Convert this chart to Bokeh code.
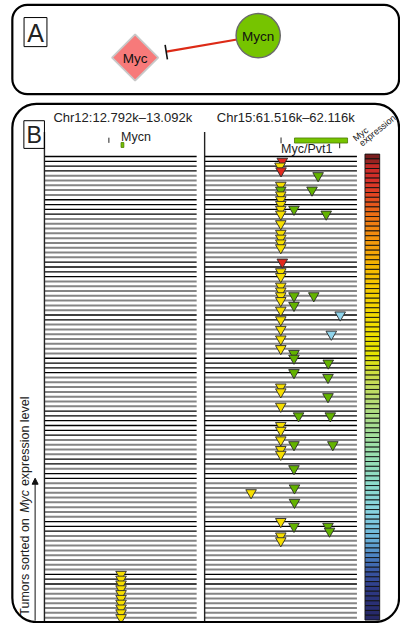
import numpy as np
from bokeh.plotting import figure
from bokeh.models import (Range1d, ColumnDataSource, BoxAnnotation, Arrow,
                          NormalHead, LinearColorMapper)
from bokeh.core.properties import value
from bokeh.embed import file_html
from bokeh.resources import INLINE

# ---------------- data ----------------
chr12_region = (12792, 13092)   # kb
chr15_region = (61516, 62116)   # kb
n_tumors = 97                   # tumors, sorted on Myc expression (0 = highest)

track_shade = ("k" * 4 + "g" * 5 + "k" * 4 + "g" * 9 + "k" * 4 + "g" * 7 +
               "k" * 2 + "g" * 7 + "k" * 4 + "g" * 7 + "k" * 6 + "g" * 4 +
               "k" * 2 + "g" * 1 + "k" * 2 + "g" * 8 + "k" * 3 + "g" * 8 +
               "k" * 3 + "g" * 7)

# gene annotations
mycn_tick = [12919]
mycn_exon = (12943, 12948.5)
myc_ticks = [61817, 62048]
myc_gene = (61870, 62079)

# insertions at the Mycn locus (Chr12)
mycn_rows = [87, 88, 89, 90, 91, 92, 93, 94, 95, 96]
mycn_pos = [12943] * 10
mycn_type = ["yellow"] * 10

# insertions at the Myc/Pvt1 locus (Chr15)
myc_rows = [1, 2, 3, 4, 6, 7, 8, 9, 10, 11, 12, 7, 11, 12, 14, 16, 17, 18, 19,
            22, 24, 25, 27, 28, 29, 29, 29, 30, 31, 32, 33, 34, 36, 37, 38, 40,
            41, 42, 43, 45, 46, 48, 49, 50, 52, 54, 54, 56, 57, 59, 60, 60, 61,
            62, 65, 69, 70, 72, 76, 77, 77, 78, 79, 80]
myc_pos = [61822, 61813, 61817, 61963, 61816, 61816, 61816, 61816, 61816, 61816,
           61816, 61939, 61868, 61995, 61816, 61816, 61816, 61816, 61816,
           61822, 61816, 61816, 61816, 61816, 61816, 61868, 61946, 61816, 61868,
           61816, 62050, 61816, 61816, 62015, 61816, 61816, 61868, 61868, 62003,
           61868, 62002, 61816, 61816, 62002, 61816, 61886, 62011, 61816, 61816,
           61816, 61868, 62021, 61816, 61816, 61868, 61870, 61699, 61870, 61816,
           61868, 62002, 62008, 61816, 61816]
myc_type = ["red", "yellow", "red", "green", "yellow", "green", "yellow", "yellow",
            "yellow", "yellow", "yellow", "green", "green", "green", "yellow",
            "yellow", "yellow", "yellow", "yellow", "red", "yellow", "yellow",
            "yellow", "yellow", "yellow", "green", "green", "yellow", "green",
            "yellow", "blue", "yellow", "yellow", "blue", "yellow", "yellow",
            "green", "green", "green", "green", "green", "yellow", "yellow",
            "green", "yellow", "green", "green", "yellow", "yellow", "yellow",
            "green", "green", "yellow", "yellow", "green", "green", "yellow",
            "green", "yellow", "green", "green", "green", "yellow", "yellow"]
type_colors = {"red": "#e2291d", "yellow": "#f6de00", "green": "#63b300",
               "blue": "#8fd3ea"}

# colour scale for Myc expression (top = high)
cb_pos = [0.00, 0.02, 0.05, 0.09, 0.13, 0.19, 0.24, 0.30, 0.38, 0.43, 0.48,
          0.55, 0.63, 0.70, 0.77, 0.83, 0.87, 0.90, 0.94, 1.00]
cb_col = ["#7a1e1e", "#c42a26", "#d8302a", "#e44a20", "#ee7414", "#f39c0c",
          "#f5b800", "#f5d000", "#f0e000", "#e4e400", "#c8dc50", "#b0dc80",
          "#9ce0a8", "#8edcc6", "#88d4e0", "#6cb4da", "#4a80c0", "#3a58a4",
          "#2e3a86", "#262866"]

# ---------------- layout (reference pixel space 416 x 639) ----------------
W, H = 400, 623
RW, RH = 416, 639
F = W / RW                      # screen pixels per layout unit
FONT = value("Liberation Sans")
ROW_TOP, ROW_BOT = 160.0, 633.0
L_PX = (45.7, 204.0)
R_PX = (212.3, 370.7)


def fs(px):
    return "%.1fpx" % (px * F)


def lin_range(d0, d1, p0, p1, P0, P1):
    k = (d1 - d0) / (p1 - p0)
    return Range1d(start=d0 + (P0 - p0) * k, end=d0 + (P1 - p0) * k)


def frame_box(l, r, t, b, radius=0, lw=1.1):
    return BoxAnnotation(left=l, right=r, top=t, bottom=b, border_radius=radius,
                         fill_color=None, fill_alpha=0, line_color="#000",
                         line_alpha=1.0, line_width=lw)


p = figure(width=W, height=H, output_backend="svg", toolbar_location=None,
           x_range=Range1d(0, RW), y_range=Range1d(RH, 0),
           x_axis_location=None, y_axis_location=None, min_border=0)
p.grid.visible = False
p.outline_line_color = None
p.background_fill_color = "white"

p.extra_x_ranges = {
    "chr12": lin_range(chr12_region[0], chr12_region[1], L_PX[0], L_PX[1], 0, RW),
    "chr15": lin_range(chr15_region[0], chr15_region[1], R_PX[0], R_PX[1], 0, RW),
}
p.extra_y_ranges = {"rows": lin_range(0, n_tumors - 1, ROW_TOP, ROW_BOT, RH, 0)}

# ---------- panel A ----------
p.add_layout(frame_box(12.3, 414.5, 4.5, 96, radius=15, lw=2.2))
p.add_layout(frame_box(24.5, 48.3, 17.5, 47.3, lw=1.0))
p.text(x=[36.4], y=[33], text=["A"], text_font=FONT, text_font_size=fs(26),
       text_align="center", text_baseline="middle", text_color="#222")

# interaction edge (Mycn -| Myc)
p.segment(x0=[246], y0=[40], x1=[172.5], y1=[52.5], line_color="#dd2a16", line_width=2.2)
p.segment(x0=[171.2], y0=[45.5], x1=[173.6], y1=[60.5], line_color="#111", line_width=1.6)
# nodes
p.scatter(x=[140], y=[58.5], marker="square", angle=np.pi / 4, size=34 * F,
          fill_color="#f77a7a", line_color="#c8c8c8", line_width=1.8)
p.scatter(x=[268], y=[36], marker="circle", size=46 * F, fill_color="#76c400",
          line_color="#6a6a6a", line_width=1.4)
p.text(x=[140, 268], y=[59, 36.5], text=["Myc", "Mycn"], text_font=FONT,
       text_font_size=fs(14), text_align="center", text_baseline="middle",
       text_color="#111")

# ---------- panel B ----------
p.add_layout(frame_box(12.3, 414.5, 106, 637.5, radius=24, lw=2.2))
p.add_layout(frame_box(24.3, 45.7, 123.3, 151.7, lw=1.0))
p.text(x=[35], y=[138], text=["B"], text_font=FONT, text_font_size=fs(24),
       text_align="center", text_baseline="middle", text_color="#222")

p.text(x=[55, 225], y=[119.5, 119.5],
       text=["Chr12:%.3fk\u2013%.3fk" % (chr12_region[0] / 1000, chr12_region[1] / 1000),
             "Chr15:%.3fk\u2013%.3fk" % (chr15_region[0] / 1000, chr15_region[1] / 1000)],
       text_font=FONT, text_font_size=fs(13.5), text_baseline="middle", text_color="#222")

# gene annotations
p.segment(x0=mycn_tick, y0=[140.7], x1=mycn_tick, y1=[146], x_range_name="chr12",
          line_color="#222", line_width=1)
p.quad(left=[mycn_exon[0]], right=[mycn_exon[1]], top=[145.7], bottom=[150.7],
       x_range_name="chr12", fill_color="#76c400", line_color="#4a7a00", line_width=0.8)
p.text(x=[mycn_exon[0]], y=[140], text=["Mycn"], x_range_name="chr12", text_font=FONT,
       text_font_size=fs(13), text_baseline="middle", text_color="#222")

p.segment(x0=[myc_ticks[0]], y0=[140.5], x1=[myc_ticks[0]], y1=[146.5],
          x_range_name="chr15", line_color="#222", line_width=1)
p.segment(x0=[myc_ticks[1]], y0=[146], x1=[myc_ticks[1]], y1=[151.5],
          x_range_name="chr15", line_color="#222", line_width=1)
p.quad(left=[myc_gene[0]], right=[myc_gene[1]], top=[141], bottom=[146.2],
       x_range_name="chr15", fill_color="#76c400", line_color="#4a7a00", line_width=0.8)
p.text(x=[myc_ticks[0]], y=[152.5], text=["Myc/Pvt1"], x_range_name="chr15",
       text_font=FONT, text_font_size=fs(13), text_baseline="middle", text_color="#222")

# track lines
rows = list(range(n_tumors))
shade_col = ["#000000" if s == "k" else "#858585" for s in track_shade]
shade_w = [1.3 if s == "k" else 2.0 for s in track_shade]
for rng_name, (a, b) in (("chr12", chr12_region), ("chr15", chr15_region)):
    src = ColumnDataSource(dict(x0=[a] * n_tumors, x1=[b] * n_tumors, y=rows,
                                c=shade_col, w=shade_w))
    p.segment(x0="x0", y0="y", x1="x1", y1="y", source=src, line_color="c",
              line_width="w", x_range_name=rng_name, y_range_name="rows")
    # panel vertical axis line
    p.segment(x0=[a], y0=[135], x1=[a], y1=[637], x_range_name=rng_name,
              line_color="#222", line_width=1.4)

# insertion triangles
for rng_name, rr, xx, tt in (("chr12", mycn_rows, mycn_pos, mycn_type),
                             ("chr15", myc_rows, myc_pos, myc_type)):
    src = ColumnDataSource(dict(x=xx, y=rr, c=[type_colors[t] for t in tt]))
    p.scatter(x="x", y="y", source=src, marker="inverted_triangle", size=11 * F,
              fill_color="c", line_color="#2a2a2a", line_width=0.9,
              x_range_name=rng_name, y_range_name="rows")

# colour bar of Myc expression
rgb = np.array([[int(c[i:i + 2], 16) for i in (1, 3, 5)] for c in cb_col], float)
tt_ = np.linspace(0, 1, 256)
palette = ["#%02x%02x%02x" % tuple(int(round(np.interp(t, cb_pos, rgb[:, k])))
                                   for k in range(3)) for t in tt_]
mapper = LinearColorMapper(palette=palette, low=0, high=n_tumors - 1)
p.rect(x=[386.7] * n_tumors, y=rows, width=15.3, height=1,
       fill_color={"field": "y", "transform": mapper}, line_color="#111",
       line_width=0.9, y_range_name="rows")

p.text(x=[371, 377.5], y=[146.5, 151.5], text=["Myc", "expression"], angle=0.68,
       text_font=FONT, text_font_size=fs(9.5), text_baseline="bottom", text_color="#222")

# y label (three pieces so that "Myc" is italic) and arrow
LBL = 13.0
w1 = 8.114 * LBL        # "Tumors sorted on " (Arial metrics, em)
w2 = 2.111 * LBL        # "Myc "
p.text(x=[25.5, 25.5, 25.5], y=[631, 631 - w1, 631 - w1 - w2],
       text=["Tumors sorted on", "Myc", "expression level"],
       text_font=FONT, text_font_size=fs(LBL),
       text_font_style=["normal", "italic", "normal"],
       angle=np.pi / 2, text_baseline="middle", text_align="left", text_color="#222")
p.add_layout(Arrow(end=NormalHead(size=6, fill_color="#111", line_color="#111"),
                   x_start=36, y_start=636, x_end=36, y_end=490,
                   line_color="#111", line_width=1))

open("out.html", "w").write(file_html(p, INLINE))
